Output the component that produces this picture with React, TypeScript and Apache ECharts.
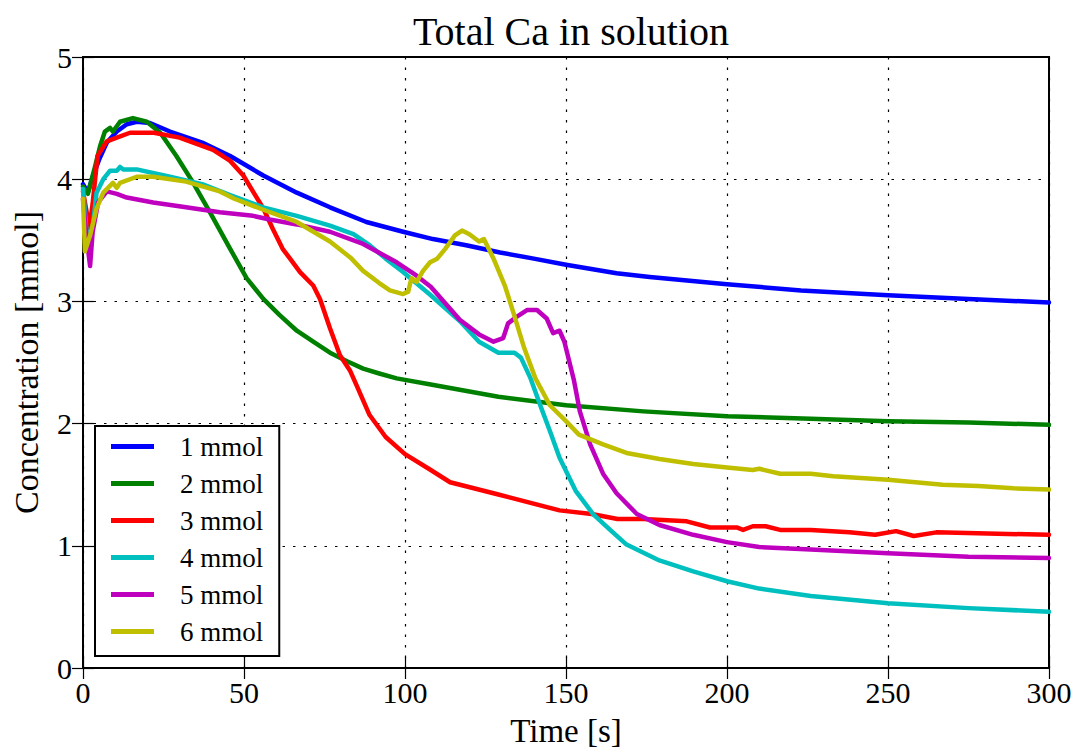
import React, { useEffect, useRef } from "react";
import * as echarts from "echarts";

const seriesNames = ["1 mmol", "2 mmol", "3 mmol", "4 mmol", "5 mmol", "6 mmol"];
const seriesColors = ["#0000ff", "#008000", "#ff0000", "#00bfbf", "#bf00bf", "#bfbf00"];

const t1 = [0, 1.5, 3, 5, 7.4, 10.5, 13.6, 16.7, 20.8, 27, 37, 45.7, 56, 66.4, 76.7, 88, 99.4, 108.7, 119, 129.5, 140, 150, 165.7, 176, 200, 223, 250, 275, 300];
const v1 = [3.96, 3.89, 4.02, 4.16, 4.3, 4.39, 4.45, 4.47, 4.46, 4.39, 4.3, 4.19, 4.03, 3.89, 3.77, 3.65, 3.57, 3.51, 3.46, 3.4, 3.35, 3.3, 3.23, 3.2, 3.14, 3.09, 3.05, 3.02, 2.99];

const t2 = [0, 1.5, 3.7, 5.3, 6.8, 8.4, 9.3, 11.5, 15.5, 19.8, 24, 29, 34, 39.4, 45.7, 50.8, 56, 61, 66.4, 71.5, 76.7, 82, 87, 92, 97.4, 108, 129, 150, 174, 200, 226, 250, 275, 300];
const v2 = [3.94, 3.88, 4.1, 4.27, 4.39, 4.42, 4.39, 4.47, 4.5, 4.47, 4.38, 4.19, 3.98, 3.73, 3.43, 3.19, 3.02, 2.89, 2.76, 2.67, 2.58, 2.51, 2.45, 2.41, 2.37, 2.32, 2.22, 2.15, 2.1, 2.06, 2.04, 2.02, 2.01, 1.99];

const t3 = [0, 1, 2, 3, 4.5, 7.4, 10.5, 14.6, 22, 30, 40.4, 45.7, 49.8, 53, 56, 59, 62, 64.3, 67.4, 71.5, 73.6, 76.7, 79.8, 83, 85, 89, 94, 100, 108, 114, 129, 148, 158, 166, 174, 187.5, 194.7, 203, 205, 208, 212, 216.5, 226, 238, 246, 252.5, 258, 265, 300];
const v3 = [3.9, 3.75, 3.6, 3.8, 4.19, 4.31, 4.34, 4.38, 4.38, 4.34, 4.24, 4.15, 4.03, 3.89, 3.76, 3.59, 3.43, 3.35, 3.24, 3.13, 3.02, 2.78, 2.56, 2.43, 2.31, 2.07, 1.89, 1.75, 1.62, 1.52, 1.42, 1.29, 1.26, 1.22, 1.22, 1.2, 1.15, 1.15, 1.13, 1.16, 1.16, 1.13, 1.13, 1.11, 1.09, 1.12, 1.08, 1.11, 1.09];

const t4 = [0, 1, 2, 3, 4.2, 6.3, 8.4, 10.5, 11.5, 12.5, 16.7, 27, 37, 45.7, 56, 66.4, 76.7, 84, 89, 94, 99.4, 108, 117, 123, 129, 134, 136, 139, 142, 145, 148, 153, 158.4, 163.7, 168.8, 179, 189.5, 200, 210, 226, 250, 275, 300];
const v4 = [3.92, 3.6, 3.42, 3.6, 3.89, 4.0, 4.07, 4.07, 4.1, 4.08, 4.08, 4.02, 3.96, 3.87, 3.77, 3.7, 3.62, 3.55, 3.46, 3.35, 3.24, 3.05, 2.84, 2.67, 2.58, 2.58, 2.54, 2.37, 2.15, 1.94, 1.72, 1.45, 1.26, 1.13, 1.01, 0.88, 0.79, 0.71, 0.65, 0.59, 0.53, 0.49, 0.46];

const t5 = [0, 1, 2.2, 3, 4.7, 7.4, 10.5, 13.6, 21.8, 32, 42.5, 52.8, 58, 66.4, 76.7, 87, 97.4, 103.6, 108, 117, 123, 127.5, 130.5, 132, 135, 138, 141, 144, 146, 148, 149.5, 152.5, 154.3, 157.5, 161.5, 165.7, 172, 179, 189.5, 200, 210, 226, 250, 275, 300];
const v5 = [3.84, 3.55, 3.29, 3.57, 3.81, 3.9, 3.88, 3.85, 3.81, 3.77, 3.73, 3.7, 3.67, 3.63, 3.57, 3.47, 3.32, 3.21, 3.12, 2.85, 2.73, 2.67, 2.7, 2.82, 2.88, 2.93, 2.93, 2.86, 2.74, 2.76, 2.67, 2.35, 2.1, 1.83, 1.59, 1.43, 1.26, 1.17, 1.09, 1.03, 0.99, 0.97, 0.94, 0.91, 0.9];

const t6 = [0, 0.6, 2.2, 4.2, 6.3, 9.3, 10.5, 11.5, 16.7, 21.8, 32, 42.5, 47, 56, 66.4, 76.7, 83, 87, 92, 95.3, 99.4, 101, 102, 103.6, 105.6, 107.8, 110, 112.5, 115.5, 117.7, 120, 123, 124.5, 127.5, 131, 134, 137, 140.5, 145, 150, 154, 161.5, 168.8, 179, 189.5, 200, 208, 210, 216.5, 226, 233, 250, 267, 278, 289, 300];
const v6 = [3.84, 3.41, 3.54, 3.76, 3.89, 3.97, 3.93, 3.97, 4.02, 4.02, 3.98, 3.9, 3.84, 3.75, 3.65, 3.49, 3.36, 3.25, 3.15, 3.09, 3.06, 3.08, 3.19, 3.16, 3.25, 3.32, 3.35, 3.43, 3.54, 3.58, 3.55, 3.49, 3.51, 3.35, 3.13, 2.88, 2.62, 2.37, 2.15, 2.02, 1.91, 1.83, 1.76, 1.71, 1.67, 1.64, 1.62, 1.63, 1.59, 1.59, 1.57, 1.54, 1.5, 1.49, 1.47, 1.46];

const times = [t1, t2, t3, t4, t5, t6];
const values = [v1, v2, v3, v4, v5, v6];

const FONT = "'Liberation Serif', 'Times New Roman', serif";

export default function App() {
  const ref = useRef<HTMLDivElement>(null);
  useEffect(() => {
    if (!ref.current) return;
    const chart = echarts.init(ref.current, null, { renderer: "svg" });
    const gridLine = { show: true, lineStyle: { color: "#000", width: 1.2, type: [2.5, 8] as any } };
    const tick = { show: true, inside: true, length: 11, lineStyle: { color: "#000", width: 1.2 } };
    chart.setOption({
      animation: false,
      backgroundColor: "#fff",
      title: {
        text: "Total Ca in solution",
        left: 566,
        top: 6,
        textAlign: "center",
        textStyle: { fontFamily: FONT, fontSize: 40, fontWeight: "normal", color: "#000" },
      },
      grid: { left: 83, right: 27, top: 57, bottom: 80, show: true, borderColor: "#000", borderWidth: 2, backgroundColor: "transparent" },
      legend: {
        orient: "vertical",
        left: 95,
        top: 426,
        padding: [7, 16, 11, 16],
        backgroundColor: "#fff",
        borderColor: "#000",
        borderWidth: 2,
        borderRadius: 0,
        icon: "rect",
        itemWidth: 43,
        itemHeight: 5,
        itemGap: 10,
        textStyle: { fontFamily: FONT, fontSize: 27, lineHeight: 27, color: "#000", padding: [0, 0, 0, 21] },
        data: seriesNames,
      },
      xAxis: [
        {
          type: "value",
          min: 0,
          max: 300,
          interval: 50,
          name: "Time [s]",
          nameLocation: "middle",
          nameGap: 46,
          nameTextStyle: { fontFamily: FONT, fontSize: 33, color: "#000" },
          axisLine: { show: false },
          axisTick: tick,
          axisLabel: { fontFamily: FONT, fontSize: 30, color: "#000", margin: 9 },
          splitLine: gridLine,
        },
        {
          type: "value",
          position: "top",
          min: 0,
          max: 300,
          interval: 50,
          axisLine: { show: false },
          axisTick: tick,
          axisLabel: { show: false },
          splitLine: { show: false },
        },
      ],
      yAxis: [
        {
          type: "value",
          min: 0,
          max: 5,
          interval: 1,
          name: "Concentration [mmol]",
          nameLocation: "middle",
          nameGap: 40,
          nameTextStyle: { fontFamily: FONT, fontSize: 34, color: "#000" },
          axisLine: { show: false },
          axisTick: tick,
          axisLabel: { fontFamily: FONT, fontSize: 30, color: "#000", margin: 11 },
          splitLine: gridLine,
        },
        {
          type: "value",
          position: "right",
          min: 0,
          max: 5,
          interval: 1,
          axisLine: { show: false },
          axisTick: tick,
          axisLabel: { show: false },
          splitLine: { show: false },
        },
      ],
      series: seriesNames.map((name, i) => ({
        name,
        type: "line",
        xAxisIndex: 0,
        yAxisIndex: 0,
        showSymbol: false,
        symbol: "none",
        smooth: false,
        color: seriesColors[i],
        lineStyle: { color: seriesColors[i], width: 4.5, join: "round", cap: "round" },
        data: times[i].map((t, k) => [t, values[i][k]]),
      })),
    });
    return () => chart.dispose();
  }, []);
  return <div ref={ref} style={{ position: "fixed", left: 0, top: 0, width: 1076, height: 752 }} />;
}
